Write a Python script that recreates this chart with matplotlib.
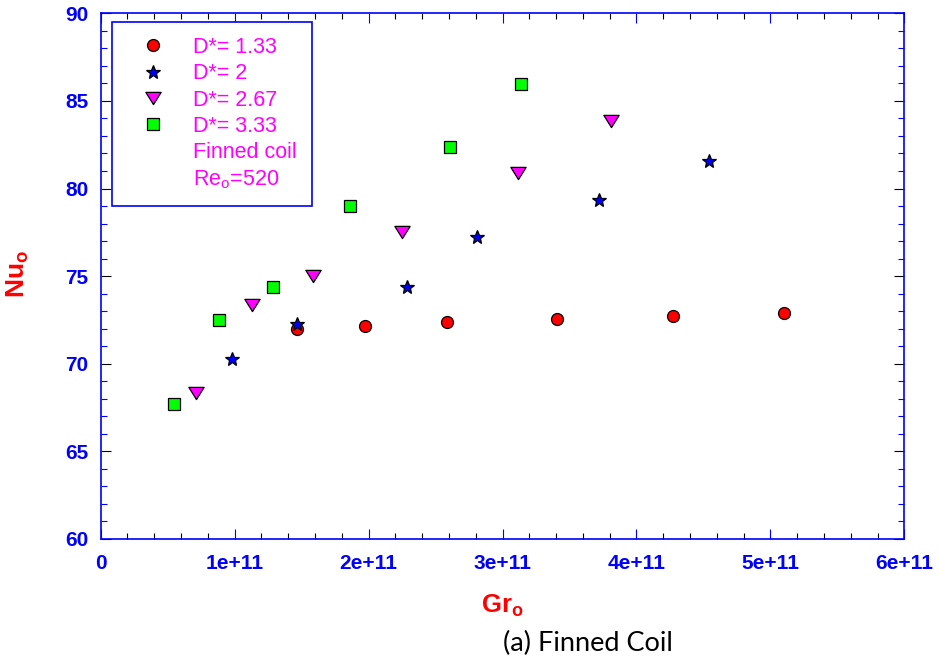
import matplotlib
matplotlib.use("Agg")
import matplotlib.pyplot as plt
from matplotlib.lines import Line2D
from matplotlib.path import Path
from matplotlib.ticker import MultipleLocator, FuncFormatter

plt.rcParams['font.family'] = ['Liberation Sans', 'DejaVu Sans']
plt.rcParams['mathtext.fontset'] = 'custom'
plt.rcParams['mathtext.rm'] = 'Liberation Sans'
plt.rcParams['mathtext.it'] = 'Liberation Sans'
plt.rcParams['mathtext.bf'] = 'Liberation Sans:bold'

# ---- data ----
gr_d133 = [1.466e11, 1.974e11, 2.588e11, 3.408e11, 4.276e11, 5.098e11]
nu_d133 = [72.00, 72.17, 72.38, 72.55, 72.72, 72.91]

gr_d2 = [0.983e11, 1.464e11, 2.290e11, 2.813e11, 3.719e11, 4.538e11]
nu_d2 = [70.25, 72.27, 74.36, 77.25, 79.34, 81.59]

gr_d267 = [0.710e11, 1.130e11, 1.586e11, 2.253e11, 3.116e11, 3.809e11]
nu_d267 = [68.31, 73.35, 75.01, 77.53, 80.90, 83.85]

gr_d333 = [0.550e11, 0.883e11, 1.289e11, 1.864e11, 2.606e11, 3.139e11]
nu_d333 = [67.68, 72.49, 74.40, 79.02, 82.37, 85.96]

legend_labels = ["D*= 1.33", "D*= 2", "D*= 2.67", "D*= 3.33"]
extra_labels = ["Finned coil", r"Re$_\mathregular{o}$=520"]
x_ticks = [0, 1e11, 2e11, 3e11, 4e11, 5e11, 6e11]
y_ticks = [60, 65, 70, 75, 80, 85, 90]

BLUE = '#0000FF'
RED = '#FF0000'
MAG = '#FF00FF'
GREEN = '#00FF00'

tri = Path([(-1, 0.8), (1, 0.8), (0, -0.8), (-1, 0.8)],
           [Path.MOVETO, Path.LINETO, Path.LINETO, Path.CLOSEPOLY])

fig = plt.figure(figsize=(9.39, 6.66), dpi=100)
ax = fig.add_axes([0.1072, 0.1907, 0.8559, 0.7893])

styles = [
    (gr_d133, nu_d133, 'o', RED, 8.6),
    (gr_d2, nu_d2, '*', BLUE, 10.5),
    (gr_d267, nu_d267, tri, MAG, 11),
    (gr_d333, nu_d333, 's', GREEN, 8.8),
]
handles = []
for (x, y, m, c, ms), lab in zip(styles, legend_labels):
    ax.plot(x, y, linestyle='none', marker=m, markersize=ms,
            markerfacecolor=c, markeredgecolor='black', markeredgewidth=0.9,
            zorder=3)
    handles.append(Line2D([], [], linestyle='none', marker=m, markersize=ms,
                          markerfacecolor=c, markeredgecolor='black',
                          markeredgewidth=0.9, label=lab))
for lab in extra_labels:
    handles.append(Line2D([], [], linestyle='none', marker=None, label=lab))

ax.set_xlim(0, 6e11)
ax.set_ylim(60, 90)
ax.set_xticks(x_ticks)
ax.set_yticks(y_ticks)
ax.xaxis.set_minor_locator(MultipleLocator(0.2e11))
ax.yaxis.set_minor_locator(MultipleLocator(1))
ax.xaxis.set_major_formatter(FuncFormatter(
    lambda v, p: '0' if v == 0 else f"{int(round(v / 1e11))}e+11"))
ax.yaxis.set_major_formatter(FuncFormatter(lambda v, p: f"{int(v)}"))

for s in ax.spines.values():
    s.set_color(BLUE)
    s.set_linewidth(1.2)

ax.tick_params(axis='both', which='both', direction='in', top=True, right=True)
ax.tick_params(axis='x', which='major', length=7, width=0.8, color=BLUE,
               labelcolor=BLUE, labelsize=15, pad=11)
ax.tick_params(axis='x', which='minor', length=4, width=0.8, color='black')
ax.tick_params(axis='y', which='major', length=7, width=0.8, color='black',
               labelcolor=BLUE, labelsize=15, pad=9)
ax.tick_params(axis='y', which='minor', length=4, width=0.8, color=BLUE)
for lbl in ax.get_xticklabels() + ax.get_yticklabels():
    lbl.set_fontweight('bold')

leg = ax.legend(handles=handles, loc='upper left',
                bbox_to_anchor=(0.0137, 0.984), borderaxespad=0,
                fontsize=15.5, labelcolor=MAG, frameon=True, fancybox=False,
                borderpad=0.7, handlelength=2.45, handletextpad=0.62,
                labelspacing=0.25)
leg.get_frame().set_edgecolor(BLUE)
leg.get_frame().set_linewidth(1.2)
leg.get_frame().set_alpha(1)

fig.text(18 / 939, 1 - 274 / 666, r'$\mathbf{Nu_o}$', color=RED, fontsize=19,
         rotation=90, ha='center', va='center')
fig.text(502 / 939, 1 - 606 / 666, r'$\mathbf{Gr_o}$', color=RED, fontsize=18.5,
         ha='center', va='center')
fig.text(587.5 / 939, 1 - 643 / 666, '(a) Finned Coil', color='black',
         fontsize=19.5, family=['Lato', 'DejaVu Sans'], ha='center', va='center')

fig.savefig('out.png', dpi=100)
